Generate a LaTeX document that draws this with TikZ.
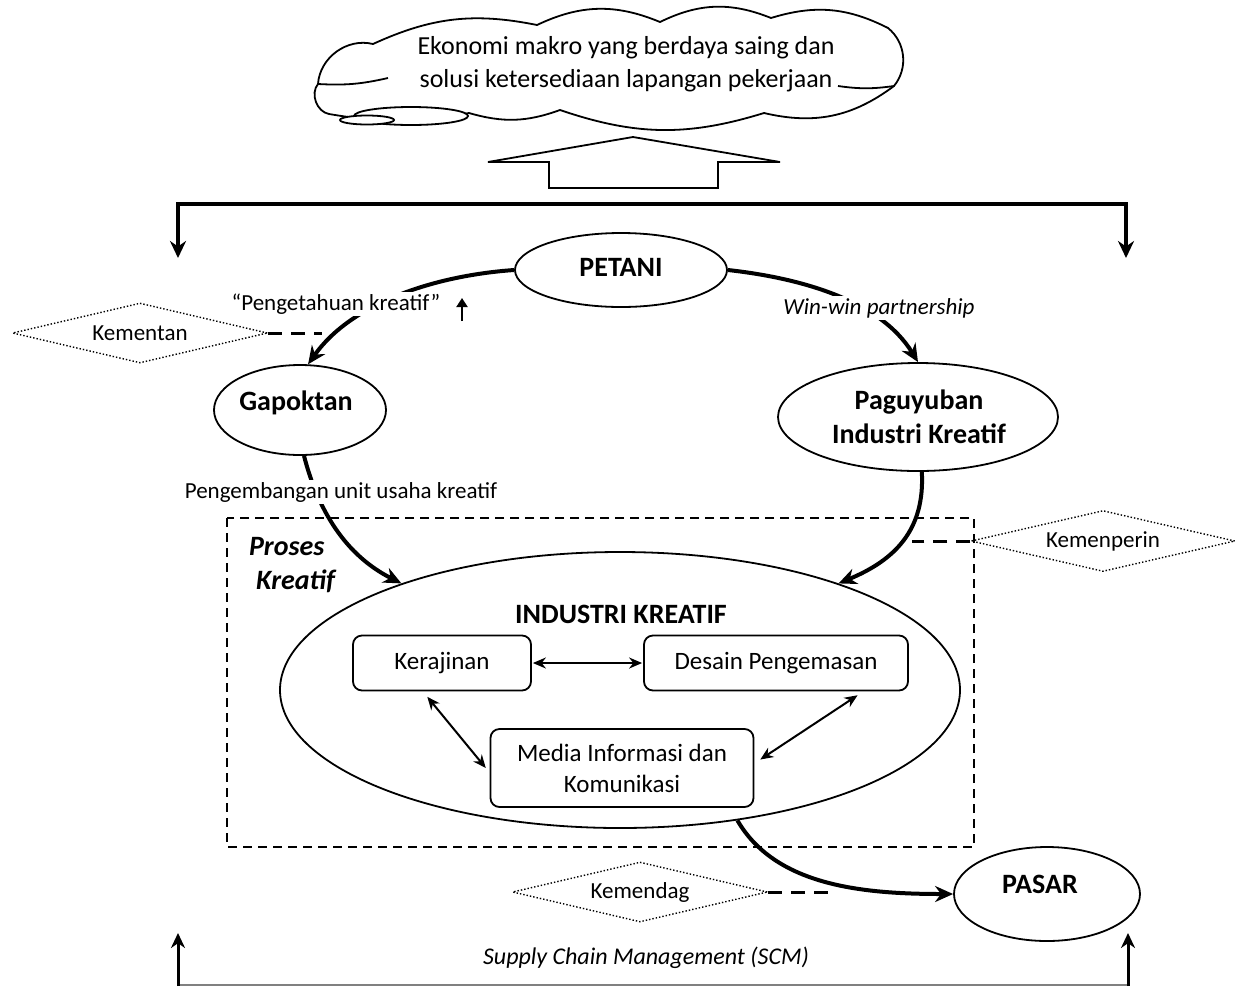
\documentclass[tikz,border=0pt]{standalone}
\usepackage{fontspec}
\setmainfont{Carlito}
\usetikzlibrary{shapes.geometric,arrows.meta}
\begin{document}
\begin{tikzpicture}[x=1pt,y=-1pt,
  lbl/.style={font=\fontsize{23}{27}\selectfont,inner sep=2pt},
  ell/.style={ellipse,draw,line width=1.8pt,inner sep=0pt},
  bt/.style={font=\fontsize{28}{34}\selectfont\bfseries,align=center},
  box/.style={draw,line width=1.8pt,rounded corners=9pt,font=\fontsize{25}{31}\selectfont,align=center,inner sep=0pt},
  dia/.style={diamond,draw,dotted,line width=1.4pt,inner sep=0pt,aspect=4.3,font=\fontsize{23}{27}\selectfont},
  flow/.style={line width=4pt,-{Stealth[length=18pt,width=16pt]}},
  dual/.style={line width=2pt,{Stealth[length=13pt,width=11pt]}-{Stealth[length=13pt,width=11pt]}},
  link/.style={line width=3pt,dash pattern=on 14pt off 9pt},
  brk/.style={line width=4pt},
  cl/.style={line width=1.8pt},
]
\useasboundingbox (0,0) rectangle (1239,986);

% cloud
\draw[cl,fill=white] (318,84) to[bend left=50] (373,44) to[bend left=18] (537,25)
  to[bend left=24] (660,22) to[bend left=24] (771,18) to[bend left=22] (888,28)
  to[bend left=45] (894,86) to[bend left=25] (764,113) to[bend left=18] (560,110)
  to[bend left=18] (469,113) to[bend left=10] (329,114) to[bend left=60] cycle;
\draw[cl] (318,84) to[bend right=8] (388,78);
\draw[cl] (894,86) to[bend left=8] (838,86);
\draw[line width=1.8pt,fill=white] (411,116) ellipse [x radius=57pt,y radius=9pt];
\draw[line width=1.8pt,fill=white] (367,120) ellipse [x radius=27pt,y radius=4.5pt];
\node[font=\fontsize{26}{33}\selectfont,align=center] (goal) at (626,64) {Ekonomi makro yang berdaya saing dan\\solusi ketersediaan lapangan pekerjaan};

% big hollow arrow
\draw[line width=1.8pt,line join=miter] (549,188) -- (549,162) -- (488,162) -- (633,137) -- (780,162) -- (718,162) -- (718,188) -- cycle;

% top bracket
\coordinate (tl) at (178,258);
\coordinate (tr) at (1126,258);
\draw[brk,{Stealth[length=17pt,width=16pt]}-{Stealth[length=17pt,width=16pt]}] (tl) -- (178,204) -- (1126,204) -- (tr);

% bottom bracket
\coordinate (bl) at (178,933);
\coordinate (br) at (1128,933);
\draw[gray,line width=2pt] (178,985) -- (1128,985);
\draw[line width=3pt,-{Stealth[length=15pt,width=14pt]}] (178,986) -- (bl);
\draw[line width=3pt,-{Stealth[length=15pt,width=14pt]}] (1128,986) -- (br);
\node[font=\fontsize{24}{29}\selectfont\itshape] (scm) at (646,958) {Supply Chain Management (SCM)};

% dashed frame
\draw[line width=1.8pt,dash pattern=on 9pt off 6pt] (227,518) rectangle (974,847);
\node[font=\fontsize{28}{34}\selectfont\bfseries\itshape,align=left] (proses) at (292,565) {Proses\\\hspace*{7pt}Kreatif};

% main nodes
\node[ell,minimum width=212pt,minimum height=74pt] (pet) at (621,270) {};
\node[bt] at (621,267) {PETANI};
\node[ell,minimum width=172pt,minimum height=90pt] (gap) at (300,410) {};
\node[bt] at (296,403) {Gapoktan};
\node[ell,minimum width=280pt,minimum height=108pt] (pag) at (918,417) {};
\node[bt] (pagt) at (919,417) {Paguyuban\\Industri Kreatif};
\node[ell,minimum width=680pt,minimum height=276pt] (ind) at (620,690) {};
\node[bt] (indt) at (621,614) {INDUSTRI KREATIF};
\node[ell,minimum width=186pt,minimum height=94pt] (pas) at (1047,894) {};
\node[bt] at (1040,884) {PASAR};

% boxes
\node[box,minimum width=178pt,minimum height=55pt] (ker) at (442,663) {Kerajinan};
\node[box,minimum width=264pt,minimum height=55pt] (des) at (776,663) {Desain Pengemasan};
\node[box,minimum width=263pt,minimum height=78pt] (med) at (622,768) {Media Informasi dan\\Komunikasi};
\draw[dual,shorten <=1pt,shorten >=1pt] (ker.east) -- (des.west);
\draw[dual,shorten <=7pt,shorten >=6pt] (ker.-124) -- (med.182);
\draw[dual,shorten <=7pt,shorten >=7pt] (des.-18) -- (med.2);

% ministries
\node[dia,minimum width=255pt,minimum height=60pt] (kmt) at (140,333) {Kementan};
\node[dia,minimum width=264pt,minimum height=61pt] (kmp) at (1103,541) {Kemenperin};
\node[dia,minimum width=255pt,minimum height=60pt] (kmd) at (640,892) {Kemendag};
\coordinate (kmtE) at (322,333);
\coordinate (kmpE) at (912,541);
\coordinate (kmdE) at (828,892);
\draw[link] (kmt.east) -- (kmtE);
\draw[link] (kmp.west) -- (kmpE);
\draw[link] (kmd.east) -- (kmdE);

% flows
\draw[flow] (pet.west) .. controls (430,276) and (350,305) .. (gap.80);
\node[lbl,fill=white] (l1) at (336,304) {“Pengetahuan kreatif”};
\coordinate (ua1) at (462,321);
\coordinate (ua2) at (462,298);
\draw[line width=2pt,-{Triangle[length=9pt,width=11pt]}] (ua1) -- (ua2);

\draw[flow] (pet.east) .. controls (800,278) and (880,300) .. (pag.north);
\node[lbl,fill=white,font=\fontsize{23}{27}\selectfont\itshape] (l2) at (879,308) {Win-win partnership};

\draw[flow] (gap.-85) .. controls (318,510) and (345,555) .. (ind.154);
\node[lbl,fill=white] (l3) at (341,492) {Pengembangan unit usaha kreatif};

\draw[flow] (pag.-86) .. controls (925,530) and (895,560) .. (ind.26);
\draw[flow] (ind.-48) .. controls (775,885) and (860,894) .. (pas.west);
\end{tikzpicture}
\end{document}
